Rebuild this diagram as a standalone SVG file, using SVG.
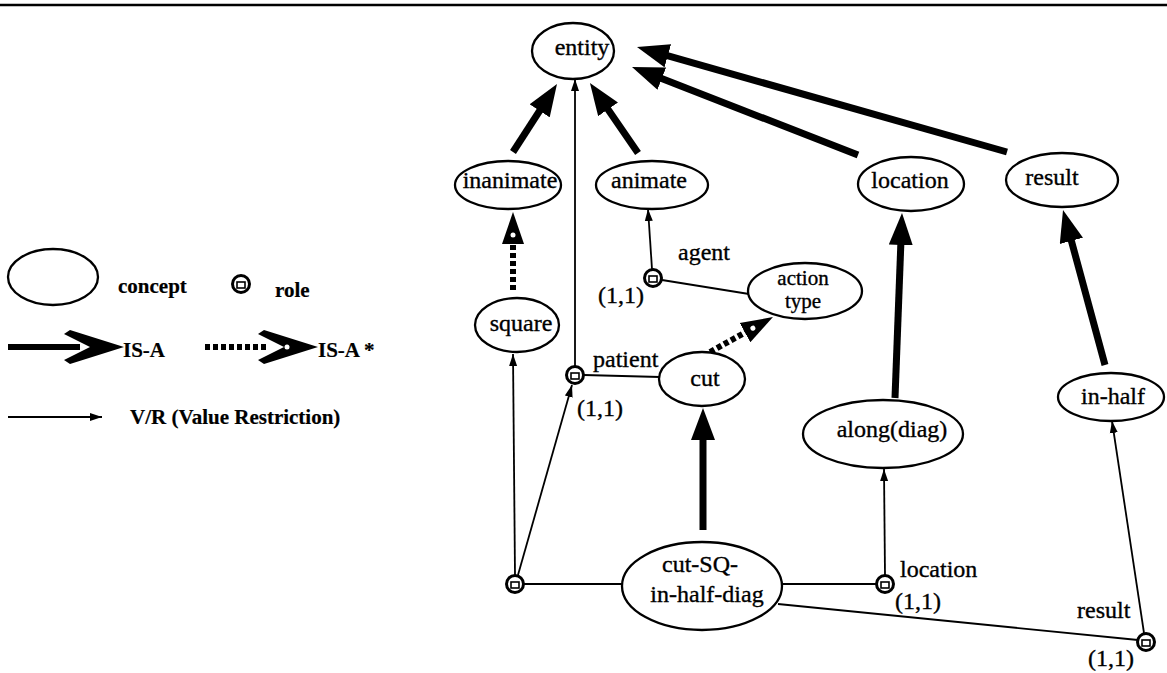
<svg xmlns="http://www.w3.org/2000/svg" width="1167" height="673" viewBox="0 0 1167 673">
<style>
  text { font-family: "Liberation Serif", "Times New Roman", serif; fill: #000; stroke: #000; stroke-width: 0.35; }
  .lbl { font-size: 24px; text-anchor: middle; }
  .lbl2 { font-size: 21px; text-anchor: middle; }
  .el { font-size: 24px; }
  .lg { font-size: 21px; font-weight: bold; stroke-width: 0.2; }
  .node ellipse { fill: #fff; stroke: #000; stroke-width: 2.3; }
  .thin { stroke: #000; stroke-width: 1.8; fill: none; }
  .isa { stroke: #000; stroke-width: 7; fill: none; }
  .isas { stroke: #000; stroke-width: 6; stroke-dasharray: 5 3; fill: none; }
</style>
<defs>
  <marker id="vr" markerUnits="userSpaceOnUse" markerWidth="13" markerHeight="9" refX="12" refY="4.5" orient="auto">
    <path d="M0,0.5 L12,4.5 L0,8.5 z" fill="#000"/>
  </marker>
  <marker id="isa" markerUnits="userSpaceOnUse" markerWidth="32" markerHeight="24" refX="16" refY="12" orient="auto">
    <path d="M0,0 L32,12 L0,24 z" fill="#000"/>
  </marker>
  <marker id="isas" markerUnits="userSpaceOnUse" markerWidth="32" markerHeight="24" refX="16" refY="12" orient="auto">
    <path d="M0,1 L32,12 L0,23 z" fill="#000"/>
    <circle cx="9" cy="12" r="2.5" fill="#fff"/>
  </marker>
  <g id="role">
    <circle r="8.5" fill="#fff" stroke="#000" stroke-width="3"/>
    <rect x="-4" y="-2" width="8" height="6" fill="none" stroke="#000" stroke-width="1.6"/>
  </g>
</defs>

<line x1="0" y1="5" x2="1167" y2="5" stroke="#000" stroke-width="2.5"/>

<!-- Legend -->
<g id="legend">
  <ellipse cx="53" cy="277" rx="45" ry="28" fill="#fff" stroke="#000" stroke-width="2.3"/>
  <text class="lg" x="118" y="293">concept</text>
  <use href="#role" x="241" y="284"/>
  <text class="lg" x="275" y="297">role</text>
  <line x1="8" y1="347" x2="80" y2="347" stroke="#000" stroke-width="6"/>
  <path d="M124,347 L70,330 L64,334 L90,347 L64,360 L70,364 Z" fill="#000"/>
  <text class="lg" x="123" y="357">IS-A</text>
  <line x1="205" y1="347" x2="266" y2="347" stroke="#000" stroke-width="6" stroke-dasharray="5 3"/>
  <path d="M318,347 L264,330 L258,334 L284,347 L258,360 L264,364 Z" fill="#000"/>
  <circle cx="287" cy="347" r="2.5" fill="#fff"/>
  <text class="lg" x="318" y="357">IS-A *</text>
  <line x1="8" y1="417" x2="102" y2="417" class="thin" marker-end="url(#vr)"/>
  <text class="lg" x="130" y="424">V/R (Value Restriction)</text>
</g>

<!-- Connectors -->
<g id="connectors">
  <!-- IS-A -->
  <line class="isa" x1="513" y1="152" x2="548.3" y2="97.4" marker-end="url(#isa)"/>
  <line class="isa" x1="638" y1="153" x2="599" y2="96.2" marker-end="url(#isa)"/>
  <line class="isa" x1="858" y1="155" x2="646.9" y2="72.8" marker-end="url(#isa)"/>
  <line class="isa" x1="1007" y1="152" x2="652.4" y2="51.4" marker-end="url(#isa)"/>
  <line class="isa" x1="895" y1="398" x2="901.4" y2="229" marker-end="url(#isa)"/>
  <line class="isa" x1="1105" y1="365" x2="1067.2" y2="225.4" marker-end="url(#isa)"/>
  <line class="isa" x1="703" y1="530" x2="703" y2="424" marker-end="url(#isa)"/>
  <!-- IS-A* -->
  <line class="isas" x1="513" y1="290" x2="513" y2="228" marker-end="url(#isas)"/>
  <line class="isas" x1="710" y1="352" x2="759" y2="324.8" marker-end="url(#isas)"/>
  <!-- V/R -->
  <line class="thin" x1="515" y1="575" x2="513" y2="354" marker-end="url(#vr)"/>
  <line class="thin" x1="518" y1="575" x2="572" y2="385" marker-end="url(#vr)"/>
  <line class="thin" x1="575" y1="366" x2="575" y2="79" marker-end="url(#vr)"/>
  <line class="thin" x1="652" y1="269" x2="648" y2="209" marker-end="url(#vr)"/>
  <line class="thin" x1="885" y1="575" x2="884" y2="469" marker-end="url(#vr)"/>
  <line class="thin" x1="1144" y1="633" x2="1112" y2="421" marker-end="url(#vr)"/>
  <!-- role links -->
  <line class="thin" x1="524" y1="584" x2="623" y2="584"/>
  <line class="thin" x1="584" y1="375" x2="660" y2="377"/>
  <line class="thin" x1="662" y1="280" x2="749" y2="294"/>
  <line class="thin" x1="781" y1="584" x2="877" y2="584"/>
  <line class="thin" x1="778" y1="604" x2="1138" y2="640"/>
</g>

<!-- Nodes -->
<g id="entity" class="node"><ellipse cx="573" cy="51" rx="41" ry="28"/><text class="lbl" x="582" y="55">entity</text></g>
<g id="inanimate" class="node"><ellipse cx="508" cy="185" rx="53" ry="24"/><text class="lbl" x="510" y="188">inanimate</text></g>
<g id="animate" class="node"><ellipse cx="652" cy="185" rx="56" ry="24"/><text class="lbl" x="649" y="188">animate</text></g>
<g id="location" class="node"><ellipse cx="911" cy="184" rx="53" ry="27"/><text class="lbl" x="910" y="188">location</text></g>
<g id="result" class="node"><ellipse cx="1062" cy="180" rx="56" ry="27"/><text class="lbl" x="1052" y="185">result</text></g>
<g id="square" class="node"><ellipse cx="517" cy="325" rx="42" ry="27"/><text class="lbl" x="521" y="331">square</text></g>
<g id="action-type" class="node"><ellipse cx="805" cy="291" rx="57" ry="28"/><text class="lbl2" x="803" y="285">action</text><text class="lbl2" x="803" y="308">type</text></g>
<g id="cut" class="node"><ellipse cx="702" cy="379" rx="43" ry="27"/><text class="lbl" x="705" y="386">cut</text></g>
<g id="along-diag" class="node"><ellipse cx="883" cy="434" rx="80" ry="34"/><text class="lbl" x="892" y="437">along(diag)</text></g>
<g id="in-half" class="node"><ellipse cx="1111" cy="397" rx="53" ry="24"/><text class="lbl" x="1113" y="404">in-half</text></g>
<g id="cut-SQ-in-half-diag" class="node"><ellipse cx="702" cy="586" rx="80" ry="44"/><text class="lbl" x="700" y="572">cut-SQ-</text><text class="lbl" x="707" y="602">in-half-diag</text></g>

<!-- Roles -->
<g id="role-agent"><use href="#role" x="653" y="278"/><text class="el" x="678" y="260">agent</text><text class="el" x="598" y="303">(1,1)</text></g>
<g id="role-patient"><use href="#role" x="575" y="375"/><text class="el" x="593" y="367">patient</text><text class="el" x="577" y="416">(1,1)</text></g>
<g id="role-object"><use href="#role" x="515" y="584"/></g>
<g id="role-location"><use href="#role" x="885" y="584"/><text class="el" x="900" y="577">location</text><text class="el" x="895" y="609">(1,1)</text></g>
<g id="role-result"><use href="#role" x="1146" y="642"/><text class="el" x="1077" y="618">result</text><text class="el" x="1088" y="666">(1,1)</text></g>
</svg>
